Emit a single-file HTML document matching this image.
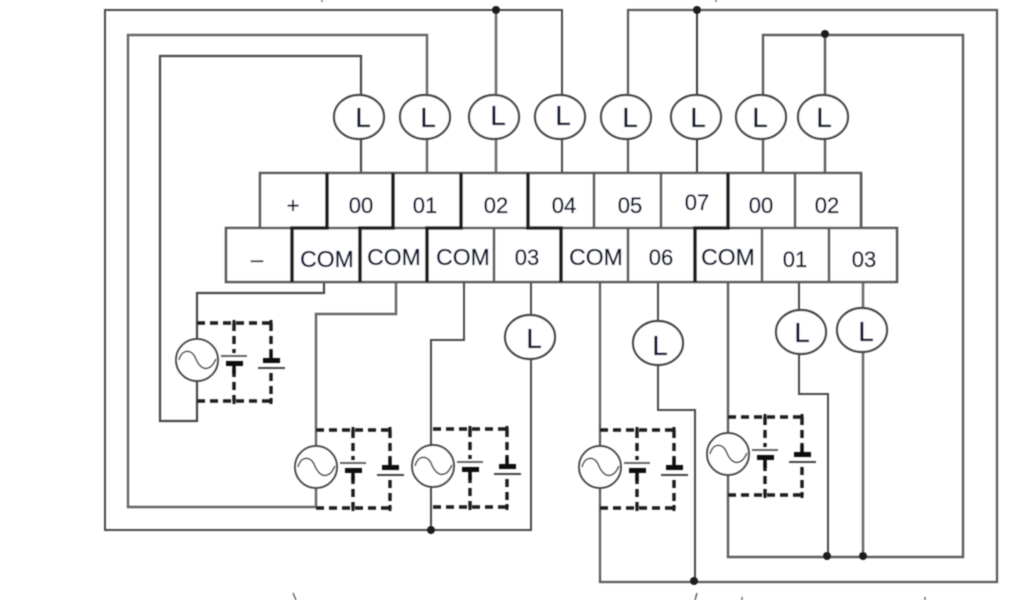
<!DOCTYPE html>
<html>
<head>
<meta charset="utf-8">
<style>
html,body{margin:0;padding:0;background:#fff;width:1024px;height:600px;overflow:hidden}
svg{display:block}
text{font-family:"Liberation Sans",sans-serif;fill:#101830;stroke:#101830;stroke-width:0.35px;text-anchor:middle}
.t{font-size:22px}
.c{font-size:23px}
.l{font-size:28px}
</style>
</head>
<body>
<svg width="1024" height="600" viewBox="0 0 1024 600" xmlns="http://www.w3.org/2000/svg">
<defs>
<filter id="b" x="-5%" y="-5%" width="110%" height="110%"><feGaussianBlur stdDeviation="0.45"/></filter>
<g id="src">
  <g fill="none" stroke="#1a1a1a" stroke-width="3.4" stroke-dasharray="8 5">
    <path d="M0,0H75"/><path d="M0,78H75"/>
    <path d="M37,0V30"/><path d="M37,46V78"/>
    <path d="M74,0V28"/><path d="M74,50V78"/>
  </g>
  <path d="M74,-3V3M37,-3V3M37,75V81M74,75V81" stroke="#1a1a1a" stroke-width="3"/>
  <ellipse cx="0" cy="37" rx="21" ry="21" fill="#fff" stroke="#444" stroke-width="2"/>
  <path d="M-18,37C-15,26 -6,26 -2,34C1,42 6,47 11,45C15,44 17,40 19,36" fill="none" stroke="#444" stroke-width="1.6"/>
  <path d="M24,33H50" stroke="#666" stroke-width="2"/>
  <rect x="29" y="38" width="17" height="5" fill="#111"/>
  <path d="M37,43V51" stroke="#111" stroke-width="3.5"/>
  <rect x="66" y="35" width="17" height="5" fill="#111"/>
  <path d="M74,28V36" stroke="#111" stroke-width="3.5"/>
  <path d="M61,45H88" stroke="#444" stroke-width="2"/>
</g>
<ellipse id="lamp" cx="0" cy="0" rx="25" ry="22" fill="#fff" stroke="#444" stroke-width="2.2"/>
<circle id="dot" cx="0" cy="0" r="4" fill="#1a1a1a"/>
</defs>

<g filter="url(#b)">
<!-- wires -->
<g fill="none" stroke="#4a4a4a" stroke-width="2">
  <path d="M562,173V10H105V530H531V282"/>
  <path d="M427,173V35H128V507H316V314H396V282" stroke="#666" stroke-width="2.4"/>
  <path d="M361,173V56H160V421H197V293H324V282" stroke-width="2.2"/>
  <path d="M496,173V10" stroke="#707070" stroke-width="2.6"/>
  <path d="M628,173V10H997V582H600V282" stroke="#5a5a5a" stroke-width="2.2"/>
  <path d="M697,173V10" stroke="#3a3a3a"/>
  <path d="M763,173V35H963V557H728V282" stroke="#5e5e5e" stroke-width="2.4"/>
  <path d="M825,173V35" stroke="#5e5e5e" stroke-width="2.4"/>
  <path d="M464,282V340H431V530"/>
  <path d="M658,282V410H695V582"/>
  <path d="M799,282V394H828V557"/>
  <path d="M863,282V557" stroke="#707070" stroke-width="2.6"/>
</g>

<!-- terminal block -->
<g fill="#fff" stroke="#5a5a5a" stroke-width="2.6">
  <path d="M260,228V173H861V228"/>
  <path d="M226,228H897V282H226Z"/>
  <path d="M594,173V228M661,173V228M795,173V228M861,173V228" fill="none"/>
  <path d="M494,228V282M628,228V282M762,228V282M829,228V282" fill="none"/>
</g>
<g fill="none" stroke="#1c1c1c" stroke-width="3.6">
  <path d="M292,282V228H327V173"/>
  <path d="M360,282V228H393V173"/>
  <path d="M427,282V228H461V173"/>
  <path d="M561,282V228H528V173"/>
  <path d="M695,282V228H728V173"/>
</g>

<!-- sources -->
<use href="#src" x="197" y="323"/>
<use href="#src" x="316" y="430"/>
<use href="#src" x="433" y="429"/>
<use href="#src" x="600" y="430"/>
<use href="#src" x="728" y="417"/>

<!-- lamps -->
<use href="#lamp" x="359" y="117"/>
<use href="#lamp" x="425" y="117"/>
<use href="#lamp" x="494" y="117"/>
<use href="#lamp" x="560" y="117"/>
<use href="#lamp" x="626" y="117"/>
<use href="#lamp" x="696" y="117"/>
<use href="#lamp" x="761" y="117"/>
<use href="#lamp" x="823" y="117"/>
<use href="#lamp" x="530" y="337"/>
<use href="#lamp" x="658" y="343"/>
<use href="#lamp" x="801" y="332"/>
<use href="#lamp" x="862" y="330"/>

<!-- dots -->
<use href="#dot" x="496" y="10"/>
<use href="#dot" x="697" y="10"/>
<use href="#dot" x="825" y="34"/>
<use href="#dot" x="431" y="530"/>
<use href="#dot" x="694" y="581"/>
<use href="#dot" x="827" y="556"/>
<use href="#dot" x="863" y="556"/>

<!-- stray marks -->
<path d="M293,593L296,600M697,593L695,600M742,597V600M925,597V600M322,0V2M716,0V2" stroke="#666" stroke-width="1.5" fill="none"/>

<!-- lamp labels -->
<g class="l">
  <text x="363" y="127">L</text>
  <text x="428" y="127">L</text>
  <text x="498" y="125">L</text>
  <text x="563" y="125">L</text>
  <text x="630" y="127">L</text>
  <text x="698" y="127">L</text>
  <text x="760" y="127">L</text>
  <text x="824" y="127">L</text>
  <text x="534" y="348">L</text>
  <text x="660" y="355">L</text>
  <text x="802" y="342">L</text>
  <text x="866" y="341">L</text>
</g>

<!-- terminal labels -->
<g class="t">
  <text x="293" y="213">+</text>
  <text x="361" y="213">00</text>
  <text x="425" y="213">01</text>
  <text x="496" y="213">02</text>
  <text x="564" y="213">04</text>
  <text x="630" y="213">05</text>
  <text x="697" y="210">07</text>
  <text x="761" y="213">00</text>
  <text x="827" y="213">02</text>
  <text x="257" y="267">&#8211;</text>
  <text x="527" y="265">03</text>
  <text x="661" y="265">06</text>
  <text x="795" y="267">01</text>
  <text x="864" y="267">03</text>
</g>
<g class="c">
  <text x="327" y="267">COM</text>
  <text x="394" y="265">COM</text>
  <text x="463" y="265">COM</text>
  <text x="596" y="265">COM</text>
  <text x="728" y="265">COM</text>
</g>
</g>
</svg>
</body>
</html>
